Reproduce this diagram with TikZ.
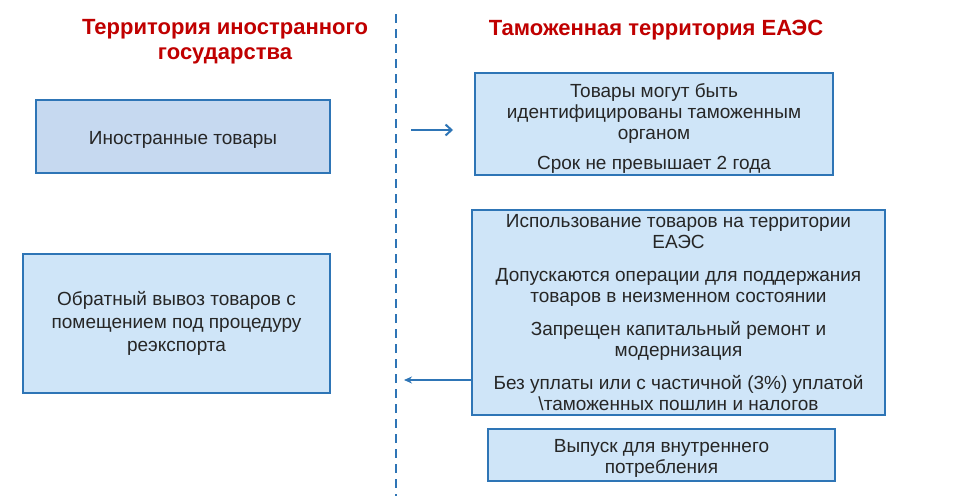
\documentclass[tikz,border=0pt]{standalone}
\usepackage{fontspec}
\setmainfont{Liberation Sans}
\usetikzlibrary{arrows.meta}
\definecolor{edge}{HTML}{2E75B6}
\definecolor{fillA}{HTML}{C6D9F0}
\definecolor{fillB}{HTML}{CFE5F8}
\definecolor{titlered}{HTML}{C00000}
\tikzset{
  box/.style={draw=edge, line width=1.8pt, align=center, inner sep=0pt,
    font=\fontsize{19}{21}\selectfont, text=black!85},
  ttl/.style={align=center, font=\bfseries\fontsize{22}{25}\selectfont, text=titlered},
  conn/.style={draw=edge, line width=2pt, -{Straight Barb[length=6pt,width=11pt]}},
  back/.style={draw=edge, line width=1.2pt, -{Stealth[length=8pt,width=7pt]}}
}
\newcommand{\pushdown}[1]{\rule{0pt}{#1}}
\begin{document}
\begin{tikzpicture}[x=1pt,y=-1pt]
\useasboundingbox (0,0) rectangle (962,498);
\fill[white] (0,0) rectangle (962,498);
% dashed divider
\coordinate (dtop) at (396,14);
\coordinate (dbot) at (396,496);
\draw[edge, line width=1.6pt, dash pattern=on 9pt off 6pt] (dtop) -- (dbot);
% titles
\node[ttl] (t1) at (225,42) {Территория иностранного\\государства};
\node[ttl] (t2) at (656,30) {Таможенная территория ЕАЭС};
% boxes
\node[box, fill=fillA, minimum width=294pt, minimum height=73pt] (foreign) at (183,136.5) {\pushdown{19pt}Иностранные товары};
\node[box, fill=fillB, minimum width=358pt, minimum height=102pt] (ident) at (654,124)
  {\pushdown{22pt}Товары могут быть\\идентифицированы таможенным\\органом\\[9pt]Срок не превышает 2 года};
\node[box, fill=fillB, minimum width=413pt, minimum height=205pt] (use) at (678.5,312.5)
  {Использование товаров на территории\\ЕАЭС\\[12pt]Допускаются операции для поддержания\\товаров в неизменном состоянии\\[12pt]Запрещен капитальный ремонт и\\модернизация\\[12pt]Без уплаты или с частичной (3\%) уплатой\\\textbackslash таможенных пошлин и налогов};
\node[box, fill=fillB, minimum width=347pt, minimum height=52pt] (release) at (661.5,455)
  {\pushdown{20pt}Выпуск для внутреннего\\потребления};
\node[box, fill=fillB, minimum width=307pt, minimum height=139pt, font=\fontsize{19}{23}\selectfont] (reexp) at (176.5,323.5)
  {Обратный вывоз товаров с\\помещением под процедуру\\реэкспорта};
% arrows
\coordinate (a1s) at (411,130);
\coordinate (a1e) at (453,130);
\draw[conn] (a1s) -- (a1e);
\coordinate (a2e) at (404,380);
\draw[back] (use.west |- a2e) -- (a2e);
\end{tikzpicture}
\end{document}
